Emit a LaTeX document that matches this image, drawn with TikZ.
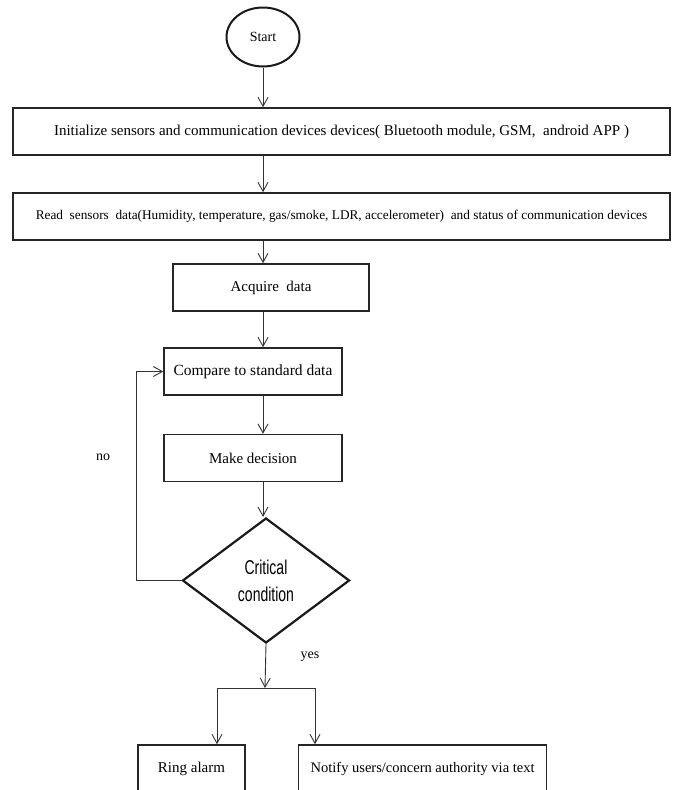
\documentclass[tikz,border=0pt]{standalone}
\usepackage{fontspec}
\setmainfont{Liberation Serif}
\newfontfamily\critfont[FakeStretch=0.7]{Liberation Sans}
\usetikzlibrary{shapes.geometric, positioning, arrows.meta}
\tikzset{
    x=1pt, y=-1pt, % pixel units, y grows downwards
    >={Straight Barb[length=9pt,width=10pt]}, % open v heads
    flow/.style={->, line width=0.9pt, black!80}, % the connectors
    block/.style={draw=black!85, line width=1.6pt, rectangle, minimum height=47pt, inner sep=0pt, font=\fontsize{15}{17}\selectfont}, % process boxes
    terminal/.style={draw=black!90, line width=2pt, ellipse, minimum width=73pt, minimum height=59pt, inner sep=0pt, font=\fontsize{14}{16}\selectfont}, % start
    decision/.style={draw=black!90, line width=2.2pt, diamond, minimum width=167pt, minimum height=125pt, inner sep=0pt, align=center, font=\critfont\fontsize{20}{27}\selectfont}, % the test
    label/.style={font=\fontsize{14}{16}\selectfont}, % branch labels
}

\begin{document}
\begin{tikzpicture}
    \useasboundingbox (0,0) rectangle (678,790);
    \node[terminal] (start) at (263,37) {Start};
    \node[block, minimum width=657pt] (init) at (341.5,131.5) {Initialize sensors and communication devices devices( Bluetooth module, GSM,\ \ android APP )};
    \node[block, minimum width=657pt, font=\fontsize{13.3}{15}\selectfont] (read) at (341.5,216.5) {Read\ \ sensors\ \ data(Humidity, temperature, gas/smoke, LDR, accelerometer)\ \ and status of communication devices};
    \node[block, minimum width=196pt] (acq) at (271,287.5) {Acquire\ \ data};
    \node[block, minimum width=178pt, font=\fontsize{15.5}{17}\selectfont] (cmp) at (253,371.5) {Compare to standard data};
    \node[block, minimum width=178pt, below=38pt of cmp] (mk) {Make decision};
    \node[decision] (crit) at (266,580.5) {Critical\\condition};
    \node[block, minimum width=107pt] (ring) at (191.5,768.5) {Ring alarm};
    \node[block, minimum width=248pt, right=52pt of ring, font=\fontsize{14.5}{17}\selectfont] (notify) {Notify users/concern authority via text};
    \node[label] (no) at (103,457) {no};
    \node[label] (yes) at (310,657) {yes};
    \coordinate (split) at (265,688);
    \coordinate (splitL) at (217,688);
    \coordinate (splitR) at (315,688);

    \draw[flow] (start) -- (init.north -| start);
    \draw[flow] (init.south -| start) -- (read.north -| start);
    \draw[flow] (read.south -| start) -- (acq.north -| start);
    \draw[flow] (acq.south -| start) -- (cmp.north -| start);
    \draw[flow] (cmp.south -| start) -- (mk.north -| start);
    \draw[flow] (mk.south -| start) -- (crit.north -| start);
    \draw[flow] (crit.west) -- ++(-45,0) |- (cmp.west);
    \draw[flow] (crit.south) -- (split);
    \draw[line width=0.9pt, black!80] (splitL) -- (splitR);
    \draw[flow] (splitL) -- (splitL |- ring.north);
    \draw[flow] (splitR) -- (splitR |- notify.north);
\end{tikzpicture}
\end{document}
